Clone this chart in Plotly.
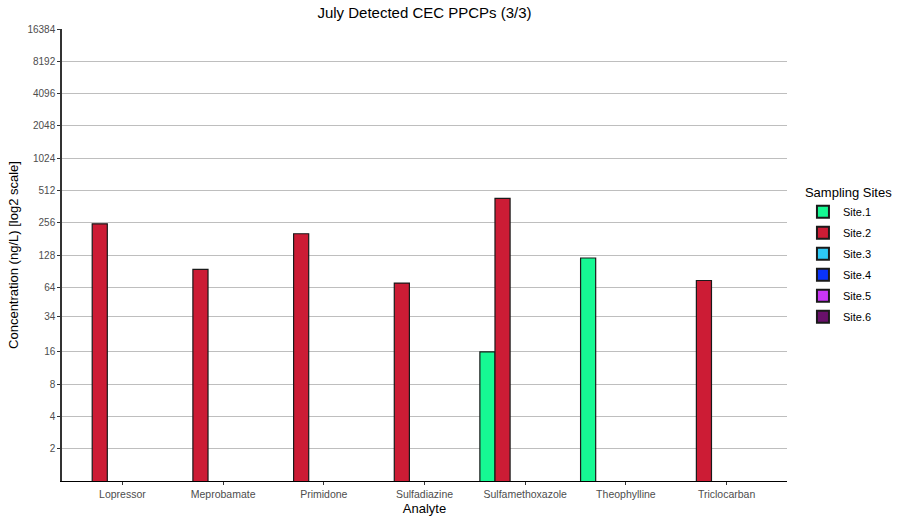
import plotly.graph_objects as go

analytes = ["Lopressor", "Meprobamate", "Primidone", "Sulfadiazine",
            "Sulfamethoxazole", "Theophylline", "Triclocarban"]
sites = ["Site.1", "Site.2", "Site.3", "Site.4", "Site.5", "Site.6"]
site1 = [None, None, None, None, 16, 120, None]
site2 = [250, 94, 202, 70, 431, None, 74]
site3 = [None] * 7
site4 = [None] * 7
site5 = [None] * 7
site6 = [None] * 7
series = [site1, site2, site3, site4, site5, site6]
colors = ["#16F993", "#CC1C35", "#2DCAF6", "#0A33FA", "#C936F5", "#69106B"]
ytickvals = [2, 4, 8, 16, 34, 64, 128, 256, 512, 1024, 2048, 4096, 8192, 16384]

FONT = "Liberation Sans, Arial, sans-serif"

fig = go.Figure()
for name, vals, col in zip(sites, series, colors):
    fig.add_trace(go.Bar(
        x=analytes, y=vals, name=name, legendgroup=name,
        marker=dict(color=col, line=dict(color="#1a1a1a", width=1.2)),
    ))

fig.update_layout(
    width=897, height=517,
    barmode="group", bargap=0.1, bargroupgap=0,
    plot_bgcolor="white", paper_bgcolor="white",
    margin=dict(l=62, r=110, t=29, b=36, autoexpand=False),
    font=dict(family=FONT, color="#000000"),
    title=dict(text="July Detected CEC PPCPs (3/3)", x=(62 + 787) / 2 / 897,
               xanchor="center", y=0.975, yanchor="middle",
               font=dict(size=15, color="#000000")),
    legend=dict(title=dict(text="Sampling Sites", font=dict(size=13)),
                x=1.022, xanchor="left", y=0.665, yanchor="top",
                font=dict(size=11), tracegroupgap=2,
                itemsizing="constant"),
    xaxis=dict(
        title=dict(text="Analyte", font=dict(size=13), standoff=5),
        range=[-0.6, 6.6], showgrid=False,
        showline=True, linecolor="#000000", linewidth=1,
        ticks="outside", ticklen=3, tickcolor="#333333",
        tickfont=dict(size=10.5, color="#4D4D4D"),
    ),
    yaxis=dict(
        title=dict(text="Concentration (ng/L) [log2 scale]", font=dict(size=13), standoff=6),
        type="log", range=[0, 4.21442],
        tickvals=ytickvals, ticktext=[str(v) for v in ytickvals],
        showgrid=True, gridcolor="#BEBEBE", gridwidth=1,
        showline=True, linecolor="#333333", linewidth=1.5,
        ticks="outside", ticklen=3, tickcolor="#333333",
        tickfont=dict(size=10, color="#4D4D4D"),
        zeroline=False,
    ),
)

fig.write_html("out.html")
